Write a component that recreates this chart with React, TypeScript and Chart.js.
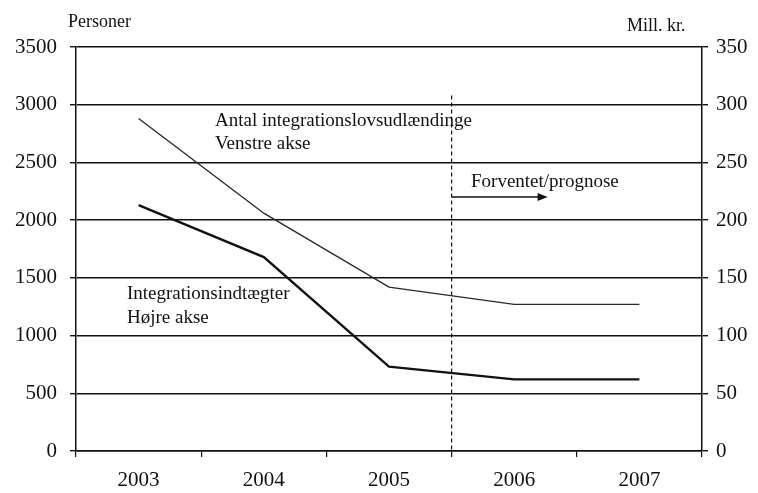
import React, { useEffect, useRef } from "react";
import { Chart, registerables } from "chart.js";

Chart.register(...registerables);

const years = ["2003", "2004", "2005", "2006", "2007"];
const personer = [2880, 2060, 1420, 1270, 1270];
const millKr = [213, 168, 73, 62, 62];
const leftTicks = { min: 0, max: 3500, step: 500 };
const rightTicks = { min: 0, max: 350, step: 50 };
const forecastStart = 2.5; // boundary between 2005 and 2006
const forecastTop = 3080;

const FONT = "'Liberation Serif', 'Times New Roman', serif";

const annotations = {
  id: "annotations",
  afterDraw(chart: any) {
    const ctx = chart.ctx;
    const x = chart.scales.x;
    const y = chart.scales.y;
    ctx.save();
    // dashed forecast line
    const fx = x.getPixelForValue(forecastStart);
    ctx.strokeStyle = "#111";
    ctx.lineWidth = 1.2;
    ctx.setLineDash([4, 3]);
    ctx.beginPath();
    ctx.moveTo(fx, y.getPixelForValue(forecastTop));
    ctx.lineTo(fx, y.getPixelForValue(0));
    ctx.stroke();
    ctx.setLineDash([]);
    // arrow
    ctx.lineWidth = 1.5;
    ctx.beginPath();
    ctx.moveTo(fx, 197);
    ctx.lineTo(fx + 88, 197);
    ctx.stroke();
    ctx.fillStyle = "#111";
    ctx.beginPath();
    ctx.moveTo(fx + 96, 197);
    ctx.lineTo(fx + 86, 193);
    ctx.lineTo(fx + 86, 201);
    ctx.closePath();
    ctx.fill();

    ctx.fillStyle = "#111";
    ctx.textBaseline = "middle";
    ctx.textAlign = "left";
    ctx.font = `19px ${FONT}`;
    ctx.fillText("Antal integrationslovsudlændinge", 215, 121);
    ctx.fillText("Venstre akse", 215, 144);
    ctx.fillText("Forventet/prognose", 471, 182);
    ctx.fillText("Integrationsindtægter", 127, 294);
    ctx.fillText("Højre akse", 127, 318);

    ctx.font = `18px ${FONT}`;
    ctx.fillText("Personer", 68, 22);
    ctx.fillText("Mill. kr.", 627, 26);
    ctx.restore();
  },
};

export default function App() {
  const ref = useRef<HTMLCanvasElement | null>(null);

  useEffect(() => {
    document.body.style.margin = "0";
    const canvas = ref.current!;
    const chart = new Chart(canvas, {
      type: "line",
      data: {
        labels: years,
        datasets: [
          {
            label: "Antal integrationslovsudlændinge",
            data: personer,
            yAxisID: "y",
            borderColor: "#2a2a2a",
            borderWidth: 1.4,
            pointRadius: 0,
            tension: 0,
          },
          {
            label: "Integrationsindtægter",
            data: millKr,
            yAxisID: "y1",
            borderColor: "#111",
            borderWidth: 2.3,
            pointRadius: 0,
            tension: 0,
          },
        ],
      },
      options: {
        animation: false,
        responsive: false,
        maintainAspectRatio: false,
        layout: { padding: { top: 47, left: 0, right: 0, bottom: 0 } },
        plugins: {
          legend: { display: false },
          tooltip: { enabled: false },
        },
        scales: {
          x: {
            offset: true,
            grid: {
              offset: true,
              drawOnChartArea: false,
              drawTicks: true,
              tickLength: 6,
              color: "#111",
              lineWidth: 1.2,
            },
            border: { display: true, color: "#111", width: 1.5 },
            ticks: {
              color: "#111",
              font: { family: FONT, size: 21 },
              padding: 11,
              maxRotation: 0,
            },
            afterFit(scale: any) {
              scale.height = 42;
            },
          },
          y: {
            position: "left",
            min: leftTicks.min,
            max: leftTicks.max,
            ticks: {
              stepSize: leftTicks.step,
              color: "#111",
              font: { family: FONT, size: 21 },
              padding: 13,
              callback: (v: any) => String(v),
            },
            grid: {
              color: "#111",
              lineWidth: 1.4,
              tickLength: 6,
            },
            border: { display: true, color: "#111", width: 1.5 },
            afterFit(scale: any) {
              scale.width = 76;
            },
          },
          y1: {
            position: "right",
            min: rightTicks.min,
            max: rightTicks.max,
            ticks: {
              stepSize: rightTicks.step,
              color: "#111",
              font: { family: FONT, size: 21 },
              padding: 8,
              callback: (v: any) => String(v),
            },
            grid: {
              drawOnChartArea: false,
              color: "#111",
              lineWidth: 1.4,
              tickLength: 6,
            },
            border: { display: true, color: "#111", width: 1.5 },
            afterFit(scale: any) {
              scale.width = 56;
            },
          },
        },
      },
      plugins: [annotations],
    });
    return () => chart.destroy();
  }, []);

  return (
    <div style={{ position: "absolute", left: 0, top: 0, width: 758, height: 493, background: "#fff" }}>
      <canvas ref={ref} width={758} height={493} style={{ width: 758, height: 493 }} />
    </div>
  );
}
